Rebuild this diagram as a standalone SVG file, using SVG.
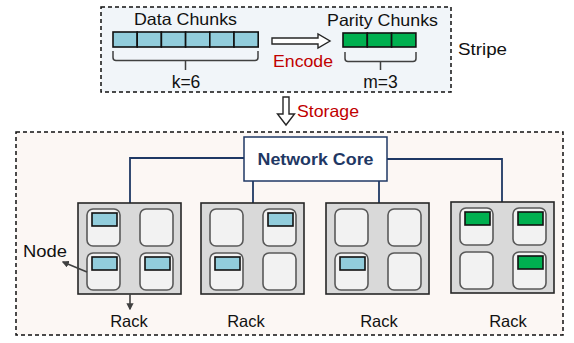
<svg xmlns="http://www.w3.org/2000/svg" width="574" height="343" viewBox="0 0 574 343">
<defs>
<style>
text{font-family:"Liberation Sans",Arial,sans-serif;font-size:16.5px;fill:#111}
.big{font-size:17.5px}
.red{fill:#c00000}
.nc{font-weight:bold;fill:#1f3864}
.rack{fill:#d9d9d9;stroke:#262626;stroke-width:1.6}
.node{fill:#f2f2f2;stroke:#595959;stroke-width:1.6}
.dc{fill:#92cddc;stroke:#111;stroke-width:1.6}
.pc{fill:#00b050;stroke:#111;stroke-width:1.6}
.link{fill:none;stroke:#1f3864;stroke-width:1.8}
.brace{fill:none;stroke:#404040;stroke-width:1.5}
.hollow{fill:#fff;stroke:#262626;stroke-width:1.4}
.ptr{fill:none;stroke:#404040;stroke-width:1.6}
</style>
<marker id="ah" viewBox="0 0 10 10" refX="8" refY="5" markerWidth="4.5" markerHeight="4.5" orient="auto-start-reverse">
<path d="M0,0 L10,5 L0,10 z" fill="#404040"/>
</marker>
<g id="rackshape">
<rect class="rack" x="0" y="0" width="103" height="91"/>
<rect class="node" x="9" y="6" width="33" height="37" rx="6"/>
<rect class="node" x="62" y="6" width="33" height="37" rx="6"/>
<rect class="node" x="9" y="50" width="33" height="37" rx="6"/>
<rect class="node" x="62" y="50" width="33" height="37" rx="6"/>
</g>
</defs>

<g id="stripe">
<rect x="101" y="7" width="350" height="85" fill="#f1f5f9" stroke="#111" stroke-width="1.5" stroke-dasharray="4,3"/>
<text x="134" y="25" textLength="103" lengthAdjust="spacingAndGlyphs">Data Chunks</text>
<g id="data-chunks">
<rect class="dc" x="113" y="32" width="24.2" height="15"/>
<rect class="dc" x="137.2" y="32" width="24.2" height="15"/>
<rect class="dc" x="161.4" y="32" width="24.2" height="15"/>
<rect class="dc" x="185.6" y="32" width="24.2" height="15"/>
<rect class="dc" x="209.8" y="32" width="24.2" height="15"/>
<rect class="dc" x="234" y="32" width="24.2" height="15"/>
</g>
<path class="brace" d="M113,51 V57.5 Q113,60.5 116,60.5 H255 Q258,60.5 258,57.5 V51 M185.5,60.5 V70"/>
<text class="big" x="186" y="88" text-anchor="middle">k=6</text>
<polygon class="hollow" points="272,38 318,38 318,34 330,41 318,48 318,44 272,44"/>
<text class="red" x="273" y="67" textLength="60" lengthAdjust="spacingAndGlyphs">Encode</text>
<text x="327" y="26" textLength="111" lengthAdjust="spacingAndGlyphs">Parity Chunks</text>
<g id="parity-chunks">
<rect class="pc" x="343" y="33" width="24.3" height="14"/>
<rect class="pc" x="367.3" y="33" width="24.3" height="14"/>
<rect class="pc" x="391.6" y="33" width="24.3" height="14"/>
</g>
<path class="brace" d="M345,52 V58.5 Q345,61.5 348,61.5 H413 Q416,61.5 416,58.5 V52 M380.5,61.5 V70"/>
<text class="big" x="380.5" y="88" text-anchor="middle">m=3</text>
<text x="458" y="55" textLength="49" lengthAdjust="spacingAndGlyphs">Stripe</text>
</g>

<g id="storage-arrow">
<polygon class="hollow" points="283,97 289,97 289,114 294.5,114 286,125 277.5,114 283,114"/>
<text class="red" x="297" y="117" textLength="62" lengthAdjust="spacingAndGlyphs">Storage</text>
</g>

<rect x="16" y="132" width="547" height="203" fill="#fcf7f4" stroke="#111" stroke-width="1.5" stroke-dasharray="4,3"/>

<g id="connectors">
<path class="link" d="M244,158 H130 V203"/>
<path class="link" d="M253,181 V203"/>
<path class="link" d="M379,181 V203"/>
<path class="link" d="M387,159 H502 V202"/>
</g>

<g id="network-core">
<rect x="244" y="137" width="143" height="44" fill="#fff" stroke="#1f3864" stroke-width="1.5"/>
<text class="nc" x="315.5" y="165" text-anchor="middle" textLength="116" lengthAdjust="spacingAndGlyphs">Network Core</text>
</g>

<g id="rack1" transform="translate(78,203)">
<use href="#rackshape"/>
<rect class="dc" x="14" y="10" width="25" height="13"/>
<rect class="dc" x="14" y="54" width="25" height="13"/>
<rect class="dc" x="67" y="54" width="25" height="13"/>
</g>
<g id="rack2" transform="translate(201,203)">
<use href="#rackshape"/>
<rect class="dc" x="67" y="10" width="25" height="13"/>
<rect class="dc" x="14" y="54" width="25" height="13"/>
</g>
<g id="rack3" transform="translate(326,203)">
<use href="#rackshape"/>
<rect class="dc" x="14" y="54" width="25" height="13"/>
</g>
<g id="rack4" transform="translate(451,202)">
<use href="#rackshape"/>
<rect class="pc" x="14" y="10" width="25" height="13"/>
<rect class="pc" x="67" y="10" width="25" height="13"/>
<rect class="pc" x="67" y="54" width="25" height="13"/>
</g>

<g id="labels">
<text x="23" y="257" textLength="44" lengthAdjust="spacingAndGlyphs">Node</text>
<path class="ptr" d="M87,272 L63,262" marker-end="url(#ah)"/>
<path class="ptr" d="M130,294 V309" marker-end="url(#ah)"/>
<text x="129" y="327" text-anchor="middle">Rack</text>
<text x="246" y="327" text-anchor="middle">Rack</text>
<text x="379" y="327" text-anchor="middle">Rack</text>
<text x="508" y="327" text-anchor="middle">Rack</text>
</g>
</svg>
